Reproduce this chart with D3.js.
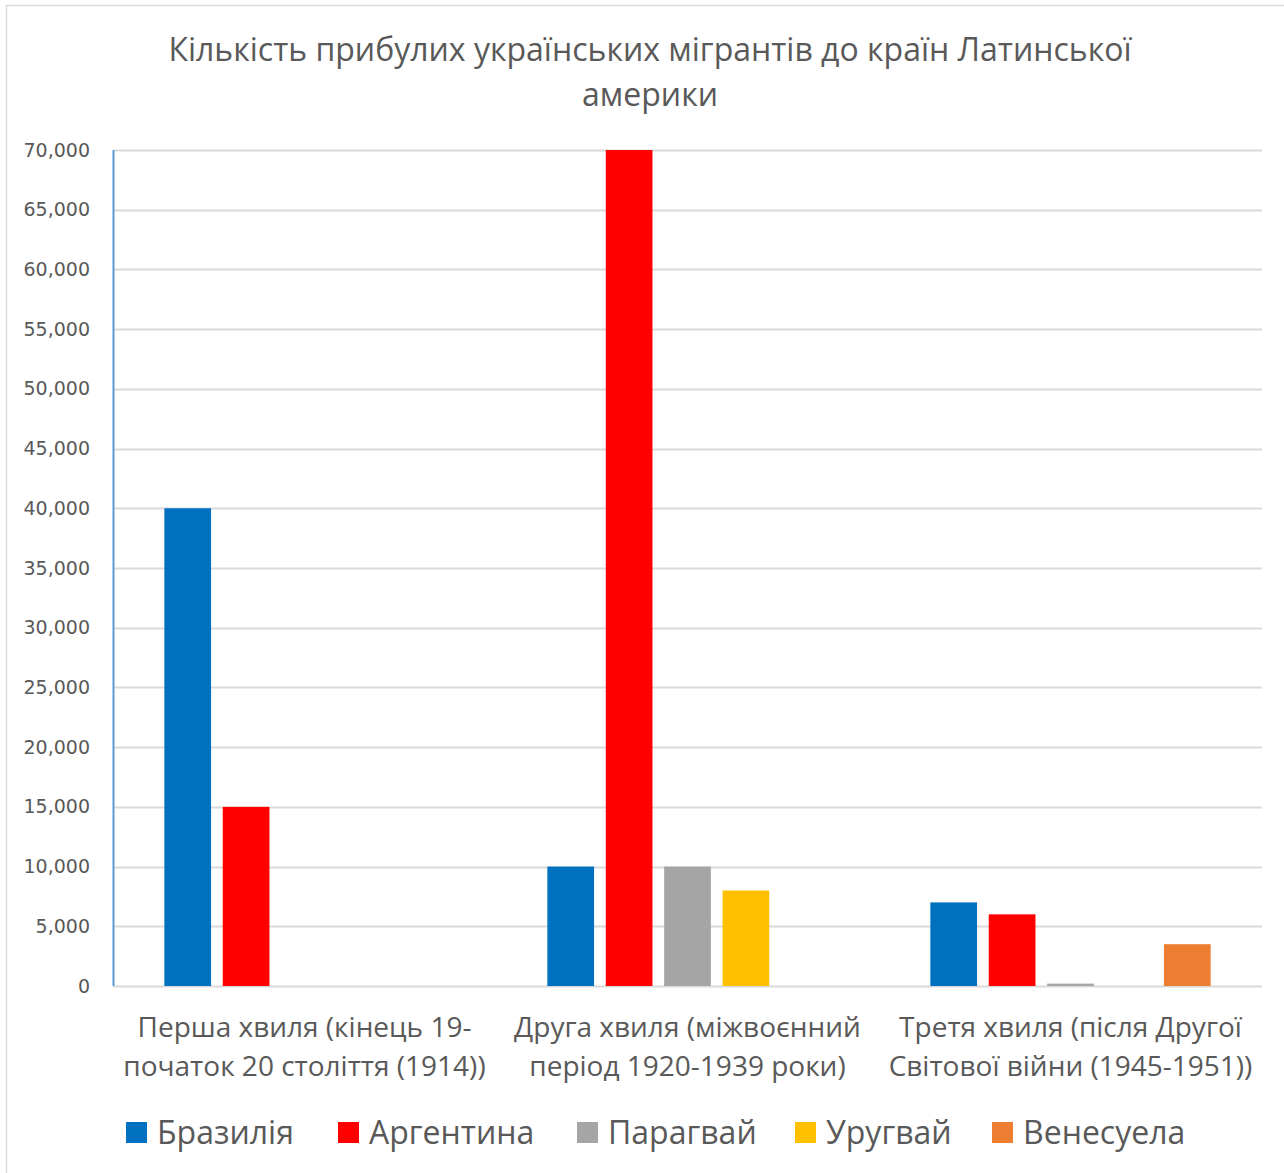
<!DOCTYPE html>
<html>
<head>
<meta charset="utf-8">
<script src="https://cdn.jsdelivr.net/npm/d3@7"></script>
<style>
  body { margin: 0; background: #fff; }
  svg { display: block; }
</style>
</head>
<body>
<svg width="1284" height="1173"></svg>
<script>
// chart data
const waves = [
  ["Перша хвиля (кінець 19-", "початок 20 століття (1914))"],
  ["Друга хвиля (міжвоєнний", "період 1920-1939 роки)"],
  ["Третя хвиля (після Другої", "Світової війни (1945-1951))"]
];
const countries = ["Бразилія", "Аргентина", "Парагвай", "Уругвай", "Венесуела"];
const colors = ["#0070c0", "#ff0000", "#a5a5a5", "#ffc000", "#ed7d31"];
// values per country, one per wave
const brazil    = [40000, 10000, 7000];
const argentina = [15000, 70000, 6000];
const paraguay  = [0, 10000, 200];
const uruguay   = [0, 8000, 0];
const venezuela = [0, 0, 3500];
const yTicks = [0, 5000, 10000, 15000, 20000, 25000, 30000, 35000, 40000, 45000, 50000, 55000, 60000, 65000, 70000];

const series = [brazil, argentina, paraguay, uruguay, venezuela];

const svg = d3.select("svg");
const textColor = "#595959";

// outer chart border
svg.append("rect")
   .attr("x", 6.5).attr("y", 5.5)
   .attr("width", 1300).attr("height", 1200)
   .attr("fill", "#fff")
   .attr("stroke", "#d9d9d9")
   .attr("stroke-width", 1.5);

const plot = {left: 113, right: 1262, top: 150, bottom: 986};

const x0 = d3.scaleBand()
  .domain(d3.range(waves.length))
  .range([plot.left, plot.right]);

const x1 = d3.scaleBand()
  .domain(d3.range(countries.length))
  .range([45.5, x0.bandwidth() - 45.5])
  .paddingInner(0.2)
  .paddingOuter(0.1);

const y = d3.scaleLinear()
  .domain([0, 70000])
  .range([plot.bottom, plot.top]);

// gridlines
svg.append("g")
   .selectAll("line")
   .data(yTicks)
   .join("line")
   .attr("x1", plot.left).attr("x2", plot.right)
   .attr("y1", d => Math.round(y(d)) + 0.5)
   .attr("y2", d => Math.round(y(d)) + 0.5)
   .attr("stroke", "#d9d9d9")
   .attr("stroke-width", 2);

// y axis labels
const yAxis = svg.append("g")
  .attr("transform", `translate(${plot.left},0)`)
  .call(d3.axisLeft(y).tickValues(yTicks).tickSize(0).tickPadding(23)
        .tickFormat(d3.format(",")));
yAxis.select(".domain").remove();
yAxis.selectAll("text")
  .attr("font-family", "DejaVu Sans")
  .attr("font-size", 19)
  .attr("fill", textColor);

// vertical axis line (blue)
svg.append("line")
   .attr("x1", plot.left + 0.5).attr("x2", plot.left + 0.5)
   .attr("y1", plot.top).attr("y2", plot.bottom)
   .attr("stroke", "#5b9bd5")
   .attr("stroke-width", 2);

// bars
const groups = svg.append("g")
  .selectAll("g")
  .data(waves.map((w, i) => i))
  .join("g")
  .attr("transform", i => `translate(${x0(i)},0)`);

groups.selectAll("rect")
  .data(i => series.map((s, k) => ({k, v: s[i]})).filter(d => d.v > 0))
  .join("rect")
  .attr("x", d => x1(d.k))
  .attr("width", x1.bandwidth())
  .attr("y", d => y(d.v))
  .attr("height", d => y(0) - y(d.v))
  .attr("fill", d => colors[d.k]);

// category labels
svg.append("g")
  .selectAll("text")
  .data(waves)
  .join("text")
  .attr("x", (d, i) => x0(i) + x0.bandwidth() / 2)
  .attr("y", 1037)
  .attr("text-anchor", "middle")
  .attr("font-family", "Open Sans")
  .attr("font-size", 28)
  .attr("fill", textColor)
  .selectAll("tspan")
  .data(d => d)
  .join("tspan")
  .attr("x", function() { return this.parentNode.getAttribute("x"); })
  .attr("dy", (d, j) => j === 0 ? 0 : 39)
  .text(d => d);

// title
svg.append("text")
  .attr("x", 650)
  .attr("y", 61)
  .attr("text-anchor", "middle")
  .attr("font-family", "Open Sans")
  .attr("font-size", 32)
  .attr("fill", textColor)
  .selectAll("tspan")
  .data(["Кількість прибулих українських мігрантів до країн Латинської", "америки"])
  .join("tspan")
  .attr("x", 650)
  .attr("dy", (d, j) => j === 0 ? 0 : 45)
  .text(d => d);

// legend
const legendX = [126, 338, 577, 795, 992];
const legend = svg.append("g")
  .selectAll("g")
  .data(countries)
  .join("g")
  .attr("transform", (d, i) => `translate(${legendX[i]},1122)`);
legend.append("rect")
  .attr("width", 21).attr("height", 21)
  .attr("fill", (d, i) => colors[i]);
legend.append("text")
  .attr("x", 31)
  .attr("y", 22)
  .attr("font-family", "Open Sans")
  .attr("font-size", 32)
  .attr("fill", textColor)
  .text(d => d);
</script>
</body>
</html>
